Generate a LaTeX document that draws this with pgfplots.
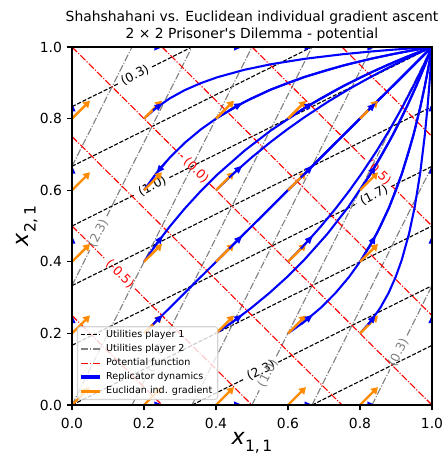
\documentclass[border=0pt]{standalone}
\usepackage{fontspec}
\setmainfont{DejaVu Sans}
\usepackage{pgfplots}
\usepackage{pgfplotstable}
\pgfplotsset{compat=1.18}
\usetikzlibrary{arrows.meta}
\definecolor{dorange}{HTML}{FF8C00}
\definecolor{mgray}{HTML}{808080}
\definecolor{lgray}{HTML}{CCCCCC}

% replicator trajectories: logit(x)=logit(x0)+s, one column per start value
\pgfplotstableread{
A B C D Z O
0.2 0.4 0.6 0.8 0 1
0.2339 0.4488 0.6469 0.8301 0 1
0.2716 0.4986 0.6911 0.8565 0 1
0.3130 0.5485 0.7321 0.8794 0 1
0.3575 0.5974 0.7695 0.8990 0 1
0.4046 0.6444 0.8030 0.9158 0 1
0.4785 0.7098 0.8463 0.9362 0 1
0.5532 0.7675 0.8814 0.9520 0 1
0.6488 0.8312 0.9172 0.9673 0 1
0.7528 0.8904 0.9481 0.9799 0 1
0.8340 0.9305 0.9679 0.9877 0 1
0.8922 0.9567 0.9803 0.9925 0 1
0.9317 0.9733 0.9879 0.9954 0 1
0.9738 0.9900 0.9955 0.9983 0 1
0.9902 0.9963 0.9984 0.9994 0 1
0.9964 0.9986 0.9994 0.9998 0 1
1 1 1 1 0 1
}\traj
\pgfplotstableread{
A B C D Z O
0.2251 0.4365 0.6354 0.8229 0 1
0.2523 0.4737 0.6694 0.8438 0 1
}\arr
\pgfplotstableread{
x y u v
0 0 0.05 0.05
0 0.2 0.05 0.05
0 0.4 0.05 0.05
0 0.6 0.05 0.05
0 0.8 0.05 0.05
0.2 0 0.05 0.05
0.2 0.2 0.05 0.05
0.2 0.4 0.05 0.05
0.2 0.6 0.05 0.05
0.2 0.8 0.05 0.05
0.4 0 0.05 0.05
0.4 0.2 0.05 0.05
0.4 0.4 0.05 0.05
0.4 0.6 0.05 0.05
0.4 0.8 0.05 0.05
0.6 0 0.05 0.05
0.6 0.2 0.05 0.05
0.6 0.4 0.05 0.05
0.6 0.6 0.05 0.05
0.6 0.8 0.05 0.05
0.8 0 0.05 0.05
0.8 0.2 0.05 0.05
0.8 0.4 0.05 0.05
0.8 0.6 0.05 0.05
0.8 0.8 0.05 0.05
}\grad

\tikzset{
 u1/.style={black, line width=0.8pt, dash pattern=on 2.96pt off 1.28pt},
 u2/.style={mgray, line width=0.8pt, dash pattern=on 5.12pt off 1.28pt on 0.8pt off 1.28pt},
 pot/.style={red, line width=0.8pt, dash pattern=on 5.12pt off 1.28pt on 0.8pt off 1.28pt},
 tr/.style={blue, line width=1.5pt},
 ah/.style={blue, line width=1.5pt, -{Triangle[length=6pt,width=4.6pt]}},
 clab/.style={inner sep=0pt, font=\fontsize{9}{9}\selectfont},
}

\begin{document}
\begin{tikzpicture}
\path[use as bounding box] (-51.84pt,-40.32pt) rectangle (270.72pt,291.6pt);
\begin{axis}[
 scale only axis, width=259.2pt, height=257.76pt,
 xmin=0, xmax=1, ymin=0, ymax=1,
 xtick={0,0.2,0.4,0.6,0.8,1}, ytick={0,0.2,0.4,0.6,0.8,1},
 xticklabels={0.0,0.2,0.4,0.6,0.8,1.0},
 yticklabels={0.0,0.2,0.4,0.6,0.8,1.0},
 tick align=outside, tick pos=left,
 major tick length=3.5pt,
 every tick/.style={black, line width=0.8pt},
 axis line style={line width=0.8pt},
 tick label style={font=\fontsize{10}{12}\selectfont, inner sep=0pt},
 xticklabel style={anchor=north, yshift=-6pt},
 yticklabel style={anchor=east, xshift=-3.5pt},
 axis on top,
 title={Shahshahani vs. Euclidean individual gradient ascent\\2 × 2 Prisoner\textquotesingle s Dilemma - potential},
 title style={at={(axis description cs:0.5,0.9927)}, anchor=south, align=center, inner sep=0pt, font=\fontsize{10}{12}\selectfont},
 xlabel={\fontsize{16}{16}\selectfont\textit{x}\raisebox{-4.8pt}{\fontsize{11.2}{11.2}\selectfont 1,\,1}},
 ylabel={\fontsize{16}{16}\selectfont\textit{x}\raisebox{-4.8pt}{\fontsize{11.2}{11.2}\selectfont 2,\,1}},
 xlabel style={at={(axis description cs:0.5,-0.1117)}, anchor=base, inner sep=0pt},
 ylabel style={at={(axis description cs:-0.1197,0.5)}, anchor=base, inner sep=0pt},
 legend style={
  at={(0.0136,0.0137)}, anchor=south west,
  font=\fontsize{6.9}{8}\selectfont,
  draw=lgray, line width=0.8pt, fill=white, fill opacity=0.8, draw opacity=0.8, text opacity=1,
  rounded corners=2pt,
  inner xsep=1.1pt, inner ysep=2.4pt,
  row sep=3.4pt,
  nodes={inner xsep=2.8pt, inner ysep=0pt, text height=5.2pt, text depth=1.6pt},
  cells={anchor=west},
 },
 legend cell align=left,
 legend image code/.code={\draw[#1, draw opacity=1, rounded corners=0pt] (0pt,0pt) -- (14pt,0pt);},
]
% ---- utilities player 1 (y = x/2 + c)
\addplot[u1, forget plot] coordinates {(0,0.8333) (0.1276,0.8971)};
\addplot[u1, forget plot] coordinates {(0.2224,0.9445) (0.3333,1)};
\addplot[u1, forget plot] coordinates {(0,0.6667) (0.6667,1)};
\addplot[u1, forget plot] coordinates {(0,0.5) (0.1756,0.5878)};
\addplot[u1, forget plot] coordinates {(0.2704,0.6352) (1,1)};
\addplot[u1, forget plot] coordinates {(0,0.3333) (1,0.8333)};
\addplot[u1, forget plot] coordinates {(0,0.1667) (0.7916,0.5625)};
\addplot[u1, forget plot] coordinates {(0.8864,0.6099) (1,0.6667)};
\addplot[u1, forget plot] coordinates {(0,0) (1,0.5)};
\addplot[u1, forget plot] coordinates {(0.3333,0) (0.4776,0.0721)};
\addplot[u1, forget plot] coordinates {(0.5724,0.1195) (1,0.3333)};
\addplot[u1, forget plot] coordinates {(0.6667,0) (1,0.1667)};
% ---- utilities player 2 (x = y/2 + c)
\addplot[u2, forget plot] coordinates {(0.8333,0) (0.8833,0.0996)};
\addplot[u2, forget plot] coordinates {(0.9307,0.1944) (1,0.3333)};
\addplot[u2, forget plot] coordinates {(0.6667,0) (1,0.6667)};
\addplot[u2, forget plot] coordinates {(0.5,0) (0.5203,0.0411)};
\addplot[u2, forget plot] coordinates {(0.5677,0.1359) (1,1)};
\addplot[u2, forget plot] coordinates {(0.3333,0) (0.8333,1)};
\addplot[u2, forget plot] coordinates {(0.1667,0) (0.2083,0.0836)};
\addplot[u2, forget plot] coordinates {(0.2557,0.1784) (0.6667,1)};
\addplot[u2, forget plot] coordinates {(0,0) (0.5,1)};
\addplot[u2, forget plot] coordinates {(0,0.3333) (0.0493,0.4326)};
\addplot[u2, forget plot] coordinates {(0.0967,0.5274) (0.3333,1)};
\addplot[u2, forget plot] coordinates {(0,0.6667) (0.1667,1)};
% ---- potential (x + y = s)
\addplot[pot, forget plot] coordinates {(0,0.25) (0.25,0)};
\addplot[pot, forget plot] coordinates {(0,0.5) (0.0916,0.4084)};
\addplot[pot, forget plot] coordinates {(0.175,0.325) (0.5,0)};
\addplot[pot, forget plot] coordinates {(0,0.75) (0.75,0)};
\addplot[pot, forget plot] coordinates {(0,1) (0.3075,0.6925)};
\addplot[pot, forget plot] coordinates {(0.3825,0.6175) (1,0)};
\addplot[pot, forget plot] coordinates {(0.25,1) (1,0.25)};
\addplot[pot, forget plot] coordinates {(0.5,1) (0.8135,0.6865)};
\addplot[pot, forget plot] coordinates {(0.8885,0.6115) (1,0.5)};
\addplot[pot, forget plot] coordinates {(0.75,1) (1,0.75)};
% ---- contour labels
\node[clab, text=black, rotate=26.4] at (axis cs:0.175,0.9208) {(0.3)};
\node[clab, text=black, rotate=26.4] at (axis cs:0.223,0.6115) {(1.0)};
\node[clab, text=black, rotate=26.4] at (axis cs:0.839,0.586) {(1.7)};
\node[clab, text=black, rotate=26.4] at (axis cs:0.525,0.0958) {(2.3)};
\node[clab, text=mgray, rotate=63.3] at (axis cs:0.907,0.147) {(0.3)};
\node[clab, text=mgray, rotate=63.3] at (axis cs:0.544,0.0885) {(1.0)};
\node[clab, text=mgray, rotate=63.3] at (axis cs:0.232,0.131) {(1.7)};
\node[clab, text=mgray, rotate=63.3] at (axis cs:0.073,0.48) {(2.3)};
\node[clab, text=red, rotate=-44.8] at (axis cs:0.1333,0.3667) {(-0.5)};
\node[clab, text=red, rotate=-44.8] at (axis cs:0.345,0.655) {(0.0)};
\node[clab, text=red, rotate=-44.8] at (axis cs:0.851,0.649) {(0.5)};
% ---- replicator trajectories
\addplot[tr, forget plot] table[x=Z,y=A] {\traj};
\addplot[tr, forget plot] table[x=Z,y=B] {\traj};
\addplot[tr, forget plot] table[x=Z,y=C] {\traj};
\addplot[tr, forget plot] table[x=Z,y=D] {\traj};
\addplot[tr, forget plot] table[x=A,y=Z] {\traj};
\addplot[tr, forget plot] table[x=B,y=Z] {\traj};
\addplot[tr, forget plot] table[x=C,y=Z] {\traj};
\addplot[tr, forget plot] table[x=D,y=Z] {\traj};
\addplot[tr, forget plot] table[x=O,y=A] {\traj};
\addplot[tr, forget plot] table[x=O,y=B] {\traj};
\addplot[tr, forget plot] table[x=O,y=C] {\traj};
\addplot[tr, forget plot] table[x=O,y=D] {\traj};
\addplot[tr, forget plot] table[x=A,y=O] {\traj};
\addplot[tr, forget plot] table[x=B,y=O] {\traj};
\addplot[tr, forget plot] table[x=C,y=O] {\traj};
\addplot[tr, forget plot] table[x=D,y=O] {\traj};
\addplot[tr, forget plot] table[x=A,y=A] {\traj};
\addplot[tr, forget plot] table[x=A,y=B] {\traj};
\addplot[tr, forget plot] table[x=A,y=C] {\traj};
\addplot[tr, forget plot] table[x=A,y=D] {\traj};
\addplot[tr, forget plot] table[x=B,y=A] {\traj};
\addplot[tr, forget plot] table[x=B,y=B] {\traj};
\addplot[tr, forget plot] table[x=B,y=C] {\traj};
\addplot[tr, forget plot] table[x=B,y=D] {\traj};
\addplot[tr, forget plot] table[x=C,y=A] {\traj};
\addplot[tr, forget plot] table[x=C,y=B] {\traj};
\addplot[tr, forget plot] table[x=C,y=C] {\traj};
\addplot[tr, forget plot] table[x=C,y=D] {\traj};
\addplot[tr, forget plot] table[x=D,y=A] {\traj};
\addplot[tr, forget plot] table[x=D,y=B] {\traj};
\addplot[tr, forget plot] table[x=D,y=C] {\traj};
\addplot[tr, forget plot] table[x=D,y=D] {\traj};
% ---- Euclidean individual gradient
\addplot[dorange, line width=1.7pt, forget plot, quiver={u=\thisrow{u}, v=\thisrow{v}}, -{Triangle[length=4.8pt,width=5.6pt]}] table {\grad};
% ---- arrowheads on trajectories
\addplot[ah, forget plot] table[x=Z,y=A] {\arr};
\addplot[ah, forget plot] table[x=Z,y=B] {\arr};
\addplot[ah, forget plot] table[x=Z,y=C] {\arr};
\addplot[ah, forget plot] table[x=Z,y=D] {\arr};
\addplot[ah, forget plot] table[x=A,y=Z] {\arr};
\addplot[ah, forget plot] table[x=B,y=Z] {\arr};
\addplot[ah, forget plot] table[x=C,y=Z] {\arr};
\addplot[ah, forget plot] table[x=D,y=Z] {\arr};
\addplot[ah, forget plot] table[x=O,y=A] {\arr};
\addplot[ah, forget plot] table[x=O,y=B] {\arr};
\addplot[ah, forget plot] table[x=O,y=C] {\arr};
\addplot[ah, forget plot] table[x=O,y=D] {\arr};
\addplot[ah, forget plot] table[x=A,y=O] {\arr};
\addplot[ah, forget plot] table[x=B,y=O] {\arr};
\addplot[ah, forget plot] table[x=C,y=O] {\arr};
\addplot[ah, forget plot] table[x=D,y=O] {\arr};
\addplot[ah, forget plot] table[x=A,y=A] {\arr};
\addplot[ah, forget plot] table[x=A,y=B] {\arr};
\addplot[ah, forget plot] coordinates {(0.2619,0.6804) (0.2339,0.6469)};
\addplot[ah, forget plot] table[x=A,y=D] {\arr};
\addplot[ah, forget plot] table[x=B,y=A] {\arr};
\addplot[ah, forget plot] table[x=B,y=B] {\arr};
\addplot[ah, forget plot] table[x=B,y=C] {\arr};
\addplot[ah, forget plot] table[x=B,y=D] {\arr};
\addplot[ah, forget plot] table[x=C,y=A] {\arr};
\addplot[ah, forget plot] table[x=C,y=B] {\arr};
\addplot[ah, forget plot] table[x=C,y=C] {\arr};
\addplot[ah, forget plot] table[x=C,y=D] {\arr};
\addplot[ah, forget plot] table[x=D,y=A] {\arr};
\addplot[ah, forget plot] table[x=D,y=B] {\arr};
\addplot[ah, forget plot] table[x=D,y=C] {\arr};
\addplot[ah, forget plot] table[x=D,y=D] {\arr};
% ---- legend
\addlegendimage{u1}\addlegendentry{Utilities player 1}
\addlegendimage{u2}\addlegendentry{Utilities player 2}
\addlegendimage{pot}\addlegendentry{Potential function}
\addlegendimage{blue, line width=2.8pt}\addlegendentry{Replicator dynamics}
\addlegendimage{dorange, line width=2.8pt}\addlegendentry{Euclidan ind. gradient}
\end{axis}
\end{tikzpicture}
\end{document}
